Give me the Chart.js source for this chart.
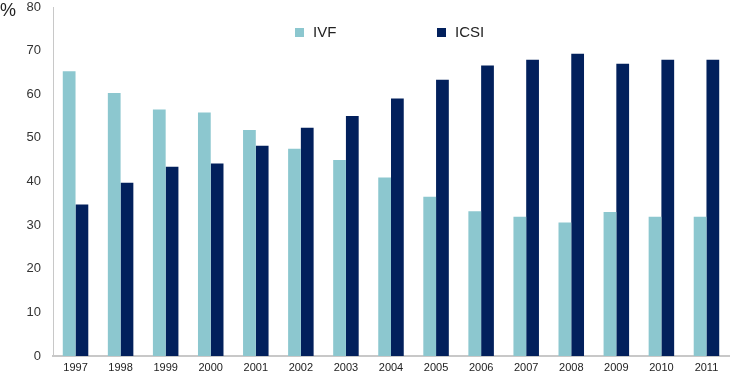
<!DOCTYPE html>
<html>
<head>
<meta charset="utf-8">
<script src="https://cdn.jsdelivr.net/npm/chart.js@4"></script>
<style>
  html, body { margin: 0; padding: 0; background: #fff; }
  #wrap { width: 730px; height: 374px; }
</style>
</head>
<body>
<div id="wrap"><canvas id="chart"></canvas></div>
<script>
const years = ['1997', '1998', '1999', '2000', '2001', '2002', '2003', '2004',
               '2005', '2006', '2007', '2008', '2009', '2010', '2011'];
const ivf  = [65.3, 60.3, 56.5, 55.8, 51.8, 47.5, 44.9, 40.9, 36.5, 33.2, 31.9, 30.6, 33.0, 31.9, 31.9];
const icsi = [34.7, 39.7, 43.4, 44.1, 48.2, 52.3, 55.0, 59.0, 63.3, 66.6, 67.9, 69.3, 67.0, 67.9, 67.9];
const yTicks = [0, 10, 20, 30, 40, 50, 60, 70, 80];

const FONT = "'Liberation Sans', Arial, sans-serif";

// legend drawn inside the plot area, plus the "%" unit label
const insideLegend = {
    id: 'insideLegend',
    afterDraw(chart) {
        const ctx = chart.ctx;
        ctx.save();
        ctx.fillStyle = '#222';
        ctx.font = '18px ' + FONT;
        ctx.textBaseline = 'middle';
        ctx.textAlign = 'left';
        ctx.fillText('%', 0, 11);

        const spots = [295, 437];
        ctx.font = '15px ' + FONT;
        chart.data.datasets.forEach((ds, i) => {
            ctx.fillStyle = ds.backgroundColor;
            ctx.fillRect(spots[i], 28, 9, 9);
            ctx.fillStyle = '#222';
            ctx.fillText(ds.label, spots[i] + 18, 33);
        });
        ctx.restore();
    }
};

new Chart(document.getElementById('chart'), {
    type: 'bar',
    plugins: [insideLegend],
    data: {
        labels: years,
        datasets: [
            { label: 'IVF', data: ivf, backgroundColor: '#8cc7cf' },
            { label: 'ICSI', data: icsi, backgroundColor: '#02205c' }
        ]
    },
    options: {
        responsive: true,
        maintainAspectRatio: false,
        animation: false,
        layout: { padding: { top: 7, right: 1, left: 0, bottom: 0 } },
        datasets: {
            bar: { categoryPercentage: 0.566, barPercentage: 1.0 }
        },
        plugins: {
            legend: { display: false },
            tooltip: { enabled: false }
        },
        scales: {
            x: {
                grid: { display: false, drawTicks: false },
                border: { color: '#c8c8c8', width: 2 },
                ticks: { color: '#222', font: { family: FONT, size: 11 }, padding: 5 },
                afterFit(scale) { scale.height = 18; }
            },
            y: {
                min: 0,
                max: 80,
                afterBuildTicks(scale) { scale.ticks = yTicks.map(v => ({ value: v })); },
                grid: { display: false, drawOnChartArea: false, drawTicks: true, tickLength: 5, color: '#c8c8c8' },
                border: { color: '#c8c8c8', width: 1 },
                ticks: { color: '#333', font: { family: FONT, size: 13 }, padding: 7 },
                afterFit(scale) {
                    scale.width = 53;
                    scale.paddingTop = 0;
                    scale.paddingBottom = 0;
                }
            }
        }
    }
});
</script>
</body>
</html>
